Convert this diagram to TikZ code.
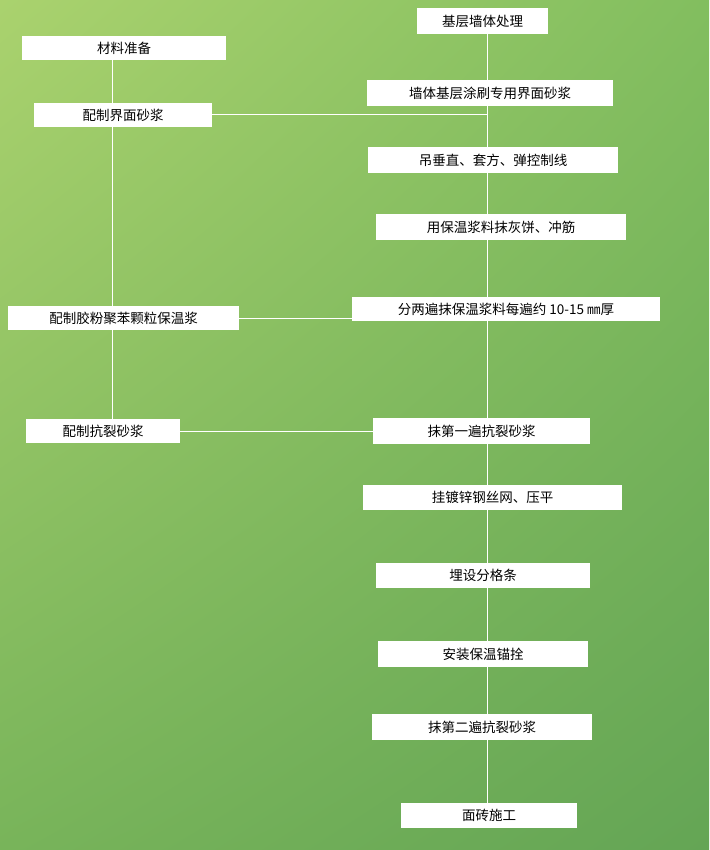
\documentclass[tikz,border=0pt]{standalone}
\usepackage{fontspec}
\setmainfont{Noto Sans CJK SC}
\usetikzlibrary{shadings}
\definecolor{cul}{RGB}{170,210,110}
\definecolor{cur}{RGB}{130,190,95}
\definecolor{cll}{RGB}{120,180,90}
\definecolor{clr}{RGB}{100,165,85}
\begin{document}
\begin{tikzpicture}[x=1pt,y=-1pt,
  bx/.style={fill=white,draw=none,inner sep=0pt,font=\fontsize{13.5}{15}\selectfont},
  ln/.style={draw=white,line width=1pt}]
\useasboundingbox (0,0) rectangle (709,850);
\shade[upper left=cul, upper right=cur, lower left=cll, lower right=clr] (0,0) rectangle (709,850);
\newcommand{\bx}[6]{\node[bx,minimum width=#4-#2,minimum height=#5-#3] (#1) at ({(#2+#4)/2},{(#3+#5)/2}) {#6};}
\coordinate (top) at (487,21);
\coordinate (bot) at (487,815);
\draw[ln] (top) -- (bot);
\coordinate (lt) at (112,48);
\coordinate (lb) at (112,431);
\draw[ln] (lt) -- (lb);
\coordinate (j1) at (487,115);
\coordinate (j2) at (352,318);
\bx{r1}{417}{8}{548}{34}{基层墙体处理}
\bx{r2}{367}{80}{613}{106}{墙体基层涂刷专用界面砂浆}
\bx{r3}{368}{147}{618}{173}{吊垂直、套方、弹控制线}
\bx{r4}{376}{214}{626}{240}{用保温浆料抹灰饼、冲筋}
\bx{r5}{352}{297}{660}{321}{分两遍抹保温浆料每遍约 10-15 ㎜厚}
\bx{r6}{373}{418}{590}{444}{抹第一遍抗裂砂浆}
\bx{r7}{363}{485}{622}{510}{挂镀锌钢丝网、压平}
\bx{r8}{376}{563}{590}{588}{埋设分格条}
\bx{r9}{378}{641}{588}{667}{安装保温锚拴}
\bx{r10}{372}{714}{592}{740}{抹第二遍抗裂砂浆}
\bx{r11}{401}{803}{577}{828}{面砖施工}
\bx{l1}{22}{36}{226}{60}{材料准备}
\bx{l2}{34}{103}{212}{127}{配制界面砂浆}
\bx{l3}{8}{306}{239}{330}{配制胶粉聚苯颗粒保温浆}
\bx{l4}{26}{419}{180}{443}{配制抗裂砂浆}
\draw[ln] (l2.east) -- (j1);
\draw[ln] (l3.east) -- (j2);
\draw[ln] (l4.east) -- (r6.west);
\end{tikzpicture}
\end{document}
